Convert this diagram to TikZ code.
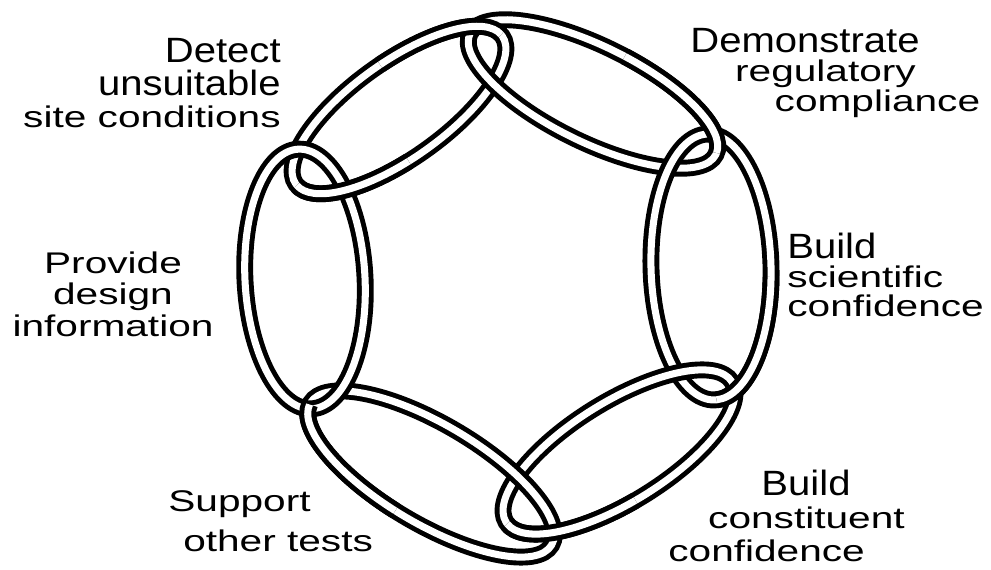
\documentclass[tikz,border=0pt]{standalone}
\usepackage{fontspec}
\setmainfont{Liberation Sans}
\newfontfamily\headfont[FakeStretch=1.14]{Liberation Sans}
\newfontfamily\bodyfont[FakeStretch=1.36]{Liberation Sans}
\definecolor{ink}{HTML}{000000}

\tikzset{
  linkband/.style={draw=ink, line width=2.8pt, double=white, double distance=4pt},
  caption/.style={inner sep=0pt, text=ink,
    font=\bodyfont\fontsize{17}{16}\selectfont,
    execute at begin node={\setlength{\lineskiplimit}{-100pt}\setlength{\lineskip}{0pt}}},
}
\newcommand\lead[1]{{\headfont\fontsize{20}{16}\selectfont #1}}

% one link of the chain: centre x, centre y, angle, x radius, y radius
\newcommand\chainlink[5]{%
  \begin{scope}[shift={(#1,#2)}, rotate=#3]
    \draw[linkband] (0,0) ellipse [x radius=#4, y radius=#5];
  \end{scope}}
% part of a link drawn again on top, from angle #6 to #7
\newcommand\linkover[7]{%
  \begin{scope}[shift={(#1,#2)}, rotate=#3]
    \draw[linkband] (#6:#4 and #5) arc [start angle=#6, end angle=#7, x radius=#4, y radius=#5];
  \end{scope}}

\newcommand\linkA{{399}{459}{35.7}{127}{48}}
\newcommand\linkB{{593}{475}{-26.2}{137}{48}}
\newcommand\linkC{{711}{302}{-88.5}{133}{60}}
\newcommand\linkD{{619}{117}{211.9}{133}{50}}
\newcommand\linkE{{431}{95}{149.5}{140}{50}}
\newcommand\linkF{{305}{290}{93}{130}{60}}

\begin{document}
\begin{tikzpicture}[x=0.02cm, y=0.02cm]
\useasboundingbox (0,0) rectangle (991,569);

% the six links, clockwise from top left
\expandafter\chainlink\linkA
\expandafter\chainlink\linkB
\expandafter\chainlink\linkC
\expandafter\chainlink\linkD
\expandafter\chainlink\linkE
\expandafter\chainlink\linkF

% interlock: each link passes over the next one on the outer side
\expandafter\linkover\linkA{2}{85}
\expandafter\linkover\linkB{2}{85}
\expandafter\linkover\linkC{2}{85}
\expandafter\linkover\linkD{2}{85}
\expandafter\linkover\linkE{2}{85}
\expandafter\linkover\linkA{182}{260}

% labels
\node[caption, anchor=north east, align=right] (detect) at (281,531)
  {\lead{Detect}\\[2.6pt] \lead{unsuitable}\\[2.4pt] site conditions};
\node[caption, anchor=north, align=center] (provide) at (113,317)
  {Provide\\[1.5pt] design\\[2pt] information};
\node[caption, anchor=north west, align=left] (support) at (168,79)
  {Support\\[6.7pt]\hspace*{8.5pt}other tests};
\node[caption, anchor=north west, align=left] (comply) at (690,541)
  {\lead{Demonstrate}\\[0.5pt]\hspace*{25.5pt}regulatory\\[1pt]\hspace*{48pt}compliance};
\node[caption, anchor=north west, align=left] (science) at (787,336)
  {\lead{Build}\\[0.5pt] scientific\\[0.5pt] confidence};
\node[caption, anchor=north west, align=left] (public) at (668,99)
  {\hspace*{53pt}\lead{Build}\\[2.6pt]\hspace*{22.7pt}constituent\\[2.6pt] confidence};
\end{tikzpicture}
\end{document}
